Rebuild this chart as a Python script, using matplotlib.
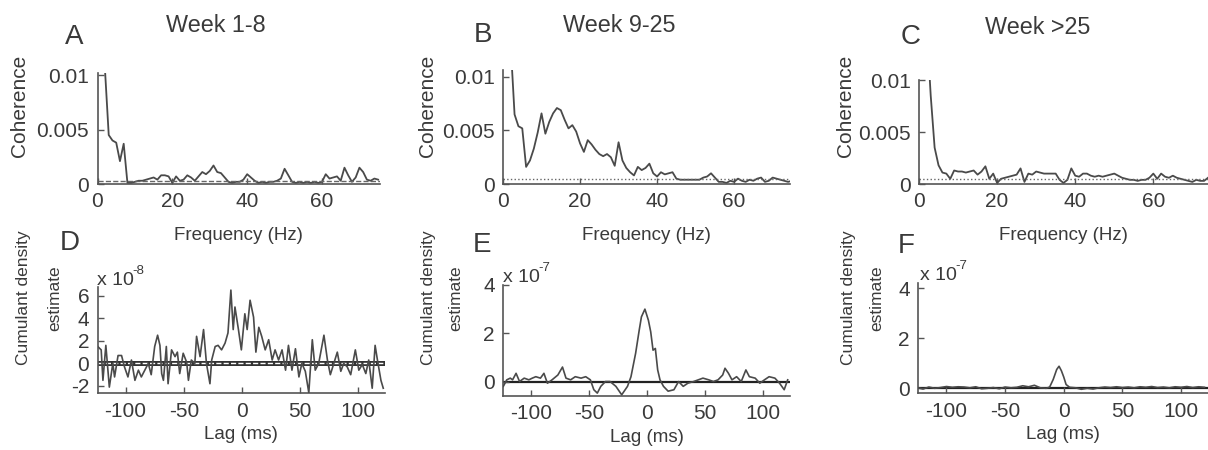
import numpy as np
import matplotlib
matplotlib.use('Agg')
import matplotlib.pyplot as plt

plt.rcParams['font.family'] = ['Liberation Sans', 'DejaVu Sans']
plt.rcParams['axes.unicode_minus'] = False

# ---- data ----
freq_ab = list(range(0, 76))
freq_c = list(range(0, 75))

coh_a = [0.03, 0.02, 0.0105, 0.0045, 0.004, 0.0038, 0.0021, 0.0037, 0.0001, 0.0001,
         0.0002, 0.0003, 0.0003, 0.0004, 0.0005, 0.0006, 0.0004, 0.0008, 0.0008, 0.0007,
         0.0001, 0.0007, 0.0003, 0.0004, 0.0008, 0.0006, 0.0003, 0.0007, 0.0011, 0.0009,
         0.0012, 0.0017, 0.0011, 0.001, 0.0006, 0.0002, 0.0001, 0.0002, 0.0002, 0.0004,
         0.0009, 0.0006, 0.0003, 0.0001, 0.0002, 0.0001, 0.0002, 0.0002, 0.0003, 0.0005,
         0.0014, 0.0008, 0.0002, 0.0001, 0.0002, 0.0001, 0.0002, 0.0001, 0.0002, 0.0001,
         0.0002, 0.0009, 0.0005, 0.0006, 0.0007, 0.0003, 0.0015, 0.0008, 0.0002, 0.0006,
         0.0015, 0.0011, 0.0004, 0.0003, 0.0005, 0.0004]
coh_b = [0.03, 0.02, 0.013, 0.0065, 0.0054, 0.0052, 0.0016, 0.0022, 0.0033, 0.0048,
         0.0066, 0.0047, 0.0058, 0.0066, 0.0071, 0.0069, 0.006, 0.0052, 0.0055, 0.0049,
         0.0038, 0.003, 0.0041, 0.0037, 0.0032, 0.0028, 0.0026, 0.0028, 0.0025, 0.0017,
         0.0039, 0.0022, 0.0015, 0.0011, 0.0008, 0.0016, 0.0013, 0.0015, 0.0019, 0.001,
         0.0007, 0.0011, 0.0009, 0.001, 0.0011, 0.0005, 0.0004, 0.0004, 0.0004, 0.0004,
         0.0004, 0.0004, 0.0006, 0.0007, 0.001, 0.0006, 0.0002, 0.0002, 0.0001, 0.0003,
         0.0002, 0.0005, 0.0003, 0.0002, 0.0004, 0.0003, 0.0005, 0.0006, 0.0002, 0.0003,
         0.0006, 0.0005, 0.0004, 0.0003, 0.0002, 0.0003]
coh_c = [0.04, 0.03, 0.015, 0.0085, 0.0035, 0.0018, 0.0011, 0.001, 0.0005, 0.0013,
         0.0012, 0.0012, 0.0011, 0.0012, 0.0013, 0.0009, 0.0012, 0.0017, 0.0005, 0.001,
         0.0001, 0.0005, 0.0006, 0.0007, 0.0008, 0.0009, 0.0015, 0.0002, 0.001, 0.0009,
         0.0012, 0.0011, 0.001, 0.001, 0.001, 0.001, 0.0004, 0.0001, 0.0004, 0.0015,
         0.0008, 0.0007, 0.001, 0.001, 0.0008, 0.0007, 0.0008, 0.0007, 0.0008, 0.0009,
         0.001, 0.0008, 0.0006, 0.0005, 0.0004, 0.0004, 0.0003, 0.0004, 0.0004, 0.0006,
         0.001, 0.0005, 0.001, 0.0007, 0.0006, 0.0008, 0.0006, 0.0005, 0.0004, 0.0003,
         0.0002, 0.0004, 0.0003, 0.0003, 0.0006]
conf_coh = [0.0003, 0.0005, 0.0005]

lag_d = [-124, -121, -119.5, -117, -114, -111, -109.5, -106.5, -103.5, -101,
         -98, -95, -92, -89, -86.5, -83.5, -80.5, -78, -75, -72.5,
         -70.5, -69, -67.5, -65, -63.5, -60.5, -57.5, -55.5, -53.5, -50.5,
         -47.5, -46, -43.5, -40.5, -39, -36, -33, -30.5, -27.5, -26,
         -23, -20.5, -17.5, -14.5, -12, -9.5, -7.5, -6, -3, -0.5,
         2.5, 4.5, 7, 10, 12, 14.5, 17, 20, 23, 26,
         28.5, 31.5, 34.5, 37.5, 40, 43, 46, 49, 51.5, 54.5,
         57.5, 60.5, 63, 66, 70.5, 73.5, 76, 79, 82, 85,
         87.5, 90.5, 93.5, 97.5, 100.5, 103.5, 106.5, 109, 112, 114.5,
         116.5, 119.5, 121.5]
cde_d = [1.5, 1.2, -1.5, 1.6, -2.1, 0, -1.2, 0.7, 0.7, -0.3,
         -1.2, 0.3, -1.5, -0.6, -1.2, -0.6, 0, -1.0, 1.5, 2.5,
         1.6, -0.9, -1.5, 1.5, -1.8, 1.2, 0.6, 1.0, -0.9, 0.9,
         0.1, -1.5, 0.3, 0, 2.4, 0.6, 3.0, 0, -1.8, 0.3,
         1.5, 1.6, 1.2, 1.8, 2.7, 6.5, 3.0, 5.0, 3.0, 1.2,
         4.4, 3.0, 5.6, 4.1, 1.0, 3.2, 2.4, 1.2, 2.1, 0.3,
         1.2, 0.3, 1.2, -0.6, 1.6, -0.6, 1.3, -1.2, 0, -0.7,
         -2.6, 2.1, -0.6, 0, 2.5, 0.3, -1.0, 0, 1.0, -0.7,
         0, -0.3, -1.0, 1.2, -0.6, -0.1, -0.9, 0.3, -2.2, 1.6,
         0.3, -1.5, -2.2]  # x 1e-8

lag_e = [-124, -121, -118, -116, -113, -110, -106, -102, -99, -96,
         -92, -89, -86, -82, -77, -73, -70, -66, -62, -57,
         -53, -49, -46, -43, -40, -36, -32, -27, -22, -17,
         -14, -10, -7, -5, -2, 1, 3, 5, 7, 9,
         11, 14, 18, 23, 27, 31, 35, 40, 44, 48,
         53, 57, 61, 65, 67, 70, 73, 77, 81, 85,
         88, 93, 97, 101, 105, 110, 114, 118, 121]
cde_e = [-0.2, 0.07, 0.14, 0.07, 0.34, 0, 0.14, 0.07, 0.14, 0.2,
         0.14, 0.34, -0.07, 0.07, 0.27, 0.6, 0.14, 0.07, 0.2, 0.14,
         0.2, 0.07, -0.34, -0.48, -0.2, 0, 0, -0.2, -0.55, -0.2,
         0.2, 1.17, 2.1, 2.68, 3.0, 2.54, 2.06, 1.3, 1.37, 0.48,
         0.07, -0.2, -0.4, -0.34, 0, -0.2, -0.07, 0, 0.07, 0.14,
         0.07, 0, 0.07, 0.27, 0.55, 0.34, 0.07, 0.2, 0, 0.48,
         0.2, 0.14, -0.07, 0.07, 0.2, 0.14, -0.07, -0.34, 0.07]  # x 1e-7

lag_f = [-124, -120, -115, -110, -105, -100, -95, -90, -85, -80,
         -75, -70, -65, -60, -55, -50, -45, -40, -35, -30,
         -25, -20, -15, -12, -9, -6, -4, -2, 0, 2,
         5, 10, 15, 20, 25, 30, 35, 40, 45, 50,
         55, 60, 65, 70, 75, 80, 85, 90, 95, 100,
         105, 110, 115, 120]
cde_f = [0.02, -0.03, 0.05, 0.0, 0.03, 0.07, 0.04, 0.06, 0.05, 0.02,
         0.06, -0.02, 0.0, 0.03, -0.02, 0.05, 0.02, 0.04, 0.1, 0.06,
         0.12, 0.02, 0.0, 0.05, 0.35, 0.75, 0.88, 0.7, 0.45, 0.15,
         0.04, 0.02, -0.04, 0.0, -0.03, 0.02, 0.05, 0.03, 0.06, 0.03,
         0.05, 0.02, 0.06, 0.04, 0.07, 0.03, 0.05, 0.02, 0.06, 0.04,
         0.07, 0.03, 0.06, 0.04]  # x 1e-7

panel_letters = ['A', 'B', 'C', 'D', 'E', 'F']
titles = ['Week 1-8', 'Week 9-25', 'Week >25']
exponents = ['-8', '-7', '-7']

W, H = 1208, 450
ink = '#3a3a3a'
line_c = '#4a4a4a'


def rect(x0, x1, y0, y1):
    # pixel box -> figure fractions
    return [x0 / W, 1 - y1 / H, (x1 - x0) / W, (y1 - y0) / H]


def px(x, y):
    return x / W, 1 - y / H


def style(ax):
    for s in ['top', 'right']:
        ax.spines[s].set_visible(False)
    for s in ['left', 'bottom']:
        ax.spines[s].set_color('#555555')
        ax.spines[s].set_linewidth(1.2)
    ax.tick_params(direction='in', length=4, width=1, colors='#555555',
                   labelcolor=ink, labelsize=15, pad=6)


fig = plt.figure(figsize=(W / 100, H / 100), dpi=100)

# ---- coherence row ----
top_boxes = [rect(97.5, 380, 73, 184), rect(503, 790, 69.5, 184), rect(919, 1208, 80, 184)]
top_ylims = [0.0102, 0.0107, 0.0100]
top_xlims = [75.5, 74.5, 74]
for i, (coh, fr) in enumerate([(coh_a, freq_ab), (coh_b, freq_ab), (coh_c, freq_c)]):
    ax = fig.add_axes(top_boxes[i])
    ax.plot(fr, coh, color=line_c, lw=1.3)
    ax.axhline(conf_coh[i], color='#666666', lw=1.0, ls='--' if i == 0 else ':')
    ax.set_xlim(0, top_xlims[i])
    ax.set_ylim(0, top_ylims[i])
    ax.set_xticks([0, 20, 40, 60])
    ax.set_yticks([0, 0.005, 0.01])
    ax.set_yticklabels(['0', '0.005', '0.01'])
    style(ax)
    ax.set_xlabel('Frequency (Hz)', fontsize=13.5, color=ink, labelpad=11)

for x in [20, 427, 846]:
    fig.text(*px(x, 106), 'Coherence', rotation=90, fontsize=15, color=ink,
             ha='center', va='center')

title_pos = [(216, 26), (619, 26), (1038, 27)]
letter_pos = [(74, 37), (483, 35), (911, 37), (70, 243), (482, 245), (906, 246)]
for t, (x, y) in zip(titles, title_pos):
    fig.text(*px(x, y), t, fontsize=16.8, color=ink, ha='center', va='center')
for l, (x, y) in zip(panel_letters, letter_pos):
    fig.text(*px(x, y), l, fontsize=20, color=ink, ha='center', va='center')

# ---- cumulant density row ----
bot_boxes = [rect(97.7, 385, 286.7, 393.3), rect(503.3, 790, 285, 396), rect(918.3, 1208, 283, 393.3)]
bot_ylims = [(-2.65, 6.8), (-0.6, 4.0), (-0.2, 4.2)]
bot_yticks = [[-2, 0, 2, 4, 6], [0, 2, 4], [0, 2, 4]]
for i, (lag, cde) in enumerate([(lag_d, cde_d), (lag_e, cde_e), (lag_f, cde_f)]):
    ax = fig.add_axes(bot_boxes[i])
    if i == 0:
        ax.axhline(0, color='#333333', lw=3.6, zorder=1)
        ax.axhline(0, color='white', lw=1.0, ls='--', zorder=2)
    else:
        ax.axhline(0, color='#222222', lw=1.6, zorder=1)
    ax.plot(lag, cde, color=line_c, lw=1.2, zorder=3)
    ax.set_xlim(-124, 123)
    ax.set_ylim(*bot_ylims[i])
    ax.set_xticks([-100, -50, 0, 50, 100])
    ax.set_yticks(bot_yticks[i])
    style(ax)
    ax.set_xlabel('Lag (ms)', fontsize=13.5, color=ink, labelpad=4)

cum_x = [(24, 55), (428, 456), (849, 877)]
for (x1, x2) in cum_x:
    fig.text(*px(x1, 298), 'Cumulant density', rotation=90, fontsize=12.5, color=ink,
             ha='center', va='center')
    fig.text(*px(x2, 298), 'estimate', rotation=90, fontsize=12.5, color=ink,
             ha='center', va='center')

mult_pos = [(97, 285), (503, 282), (920, 280)]
for e, (x, y) in zip(exponents, mult_pos):
    fig.text(*px(x, y), 'x 10', fontsize=14, color=ink, ha='left', va='baseline')
    fig.text(*px(x + 35, y - 11), e, fontsize=9.5, color=ink, ha='left', va='baseline')

fig.savefig('out.png', dpi=100)
